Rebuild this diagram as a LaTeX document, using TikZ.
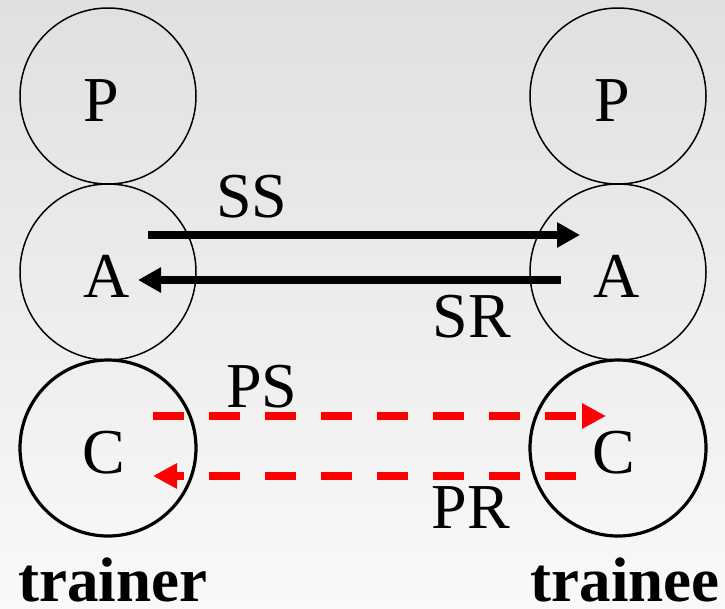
\documentclass[tikz,border=0pt]{standalone}
\usepackage{fontspec}
\setmainfont{Liberation Serif}
\usetikzlibrary{arrows.meta}
\definecolor{bgtop}{RGB}{224,224,224}
\definecolor{bgbot}{RGB}{249,249,249}
\definecolor{pred}{RGB}{255,0,0}
\tikzset{
  ring/.style={circle, draw=black, line width=1.5pt, minimum size=176pt, inner sep=0pt},
  thickring/.style={ring, line width=3.2pt},
  lbl/.style={font=\fontsize{64}{64}\selectfont, anchor=base, inner sep=0pt},
  bold/.style={font=\fontsize{63}{63}\selectfont\bfseries, anchor=base, inner sep=0pt},
  sarrow/.style={line width=8.5pt, -{Triangle[length=23pt,width=24pt]}},
  parrow/.style={pred, line width=8pt, dash pattern=on 31pt off 25pt, -{Triangle[length=24pt,width=24pt]}}
}
\begin{document}
\begin{tikzpicture}[x=1pt,y=-1pt]
\shade[top color=bgtop, bottom color=bgbot] (0,0) rectangle (725,608);
\useasboundingbox (0,0) rectangle (725,608);
% left column (trainer)
\node[ring] (Pl) at (108,96) {};
\node[ring] (Al) at (108,272) {};
\node[thickring] (Cl) at (108,448) {};
% right column (trainee)
\node[ring] (Pr) at (618,96) {};
\node[ring] (Ar) at (618,272) {};
\node[thickring] (Cr) at (618,448) {};
% letters
\node[lbl] (tPl) at (101,121) {P};
\node[lbl] (tAl) at (107,297) {A};
\node[lbl] (tCl) at (104,473) {C};
\node[lbl] (tPr) at (612,121) {P};
\node[lbl] (tAr) at (617,297) {A};
\node[lbl] (tCr) at (614,473) {C};
% connector end points
\coordinate (ss1) at ([shift={(40,-37)}]Al.center);
\coordinate (ss2) at ([shift={(-38,-37)}]Ar.center);
\coordinate (sr1) at ([shift={(-57,8)}]Ar.center);
\coordinate (sr2) at ([shift={(30,8)}]Al.center);
\coordinate (ps1) at ([shift={(45,-32)}]Cl.center);
\coordinate (ps2) at ([shift={(-12,-32)}]Cr.center);
\coordinate (pr1) at ([shift={(-42,28)}]Cr.center);
\coordinate (pr2) at ([shift={(45,28)}]Cl.center);
\draw[sarrow] (ss1) -- (ss2);
\draw[sarrow] (sr1) -- (sr2);
\draw[parrow] (ps1) -- (ps2);
\draw[parrow] (pr1) -- (pr2);
% arrow labels
\node[lbl] (SS) at (252,217) {SS};
\node[lbl] (SR) at (472,337) {SR};
\node[lbl] (PS) at (262,407) {PS};
\node[lbl] (PR) at (471,528) {PR};
% captions
\node[bold] (trainer) at (113,601) {trainer};
\node[bold] (trainee) at (625,601) {trainee};
\end{tikzpicture}
\end{document}
